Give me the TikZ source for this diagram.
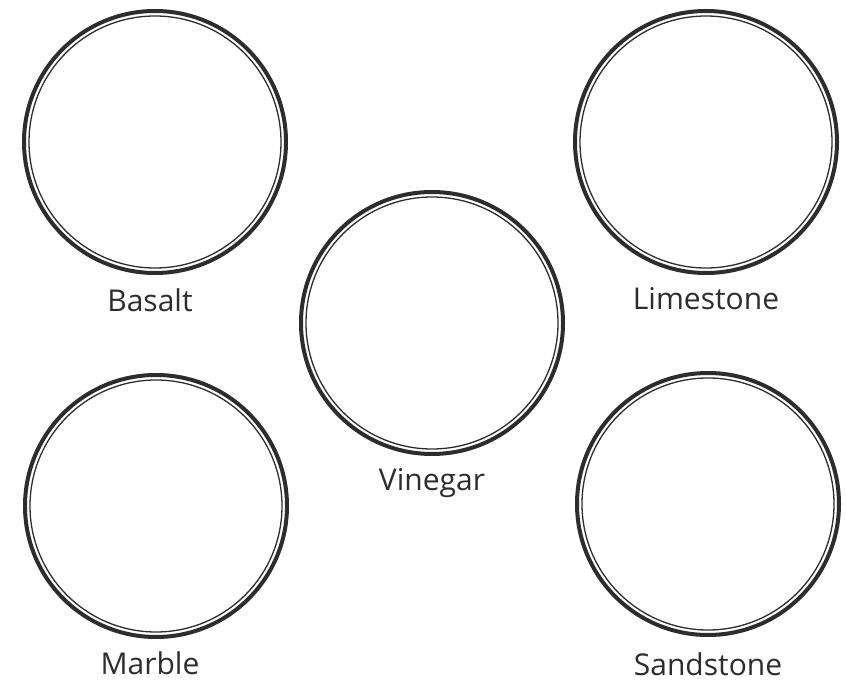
\documentclass[tikz,border=0pt]{standalone}
\usepackage{fontspec}
\setmainfont{Open Sans}
\usetikzlibrary{positioning}
\definecolor{ink}{RGB}{45,45,45}
\tikzset{
  ring/.style={circle,draw=ink,line width=4pt,minimum size=262pt,inner sep=0pt},
  rim/.style={draw=ink,line width=1.3pt},
  lbl/.style={font=\fontsize{30}{34}\selectfont,text=ink,inner sep=0pt},
}

\begin{document}
\begin{tikzpicture}[x=1pt,y=-1pt]
  \useasboundingbox (0,0) rectangle (846,684);
  % dishes
  \node[ring] (basalt) at (155,142) {};
  \node[ring] (limestone) at (706,142) {};
  \node[ring] (vinegar) at (432,323) {};
  \node[ring] (marble) at (156,506) {};
  \node[ring] (sandstone) at (708,504) {};
  \foreach \d in {basalt,limestone,vinegar,marble,sandstone}
    \draw[rim] (\d.center) circle[radius=126];
  % names
  \node[lbl,below=14pt of basalt,xshift=-5pt] (tB) {Basalt};
  \node[lbl,below=12pt of limestone] (tL) {Limestone};
  \node[lbl,below=12pt of vinegar] (tV) {Vinegar};
  \node[lbl,below=13pt of marble,xshift=-6pt] (tM) {Marble};
  \node[lbl,below=16pt of sandstone] (tS) {Sandstone};
\end{tikzpicture}
\end{document}
